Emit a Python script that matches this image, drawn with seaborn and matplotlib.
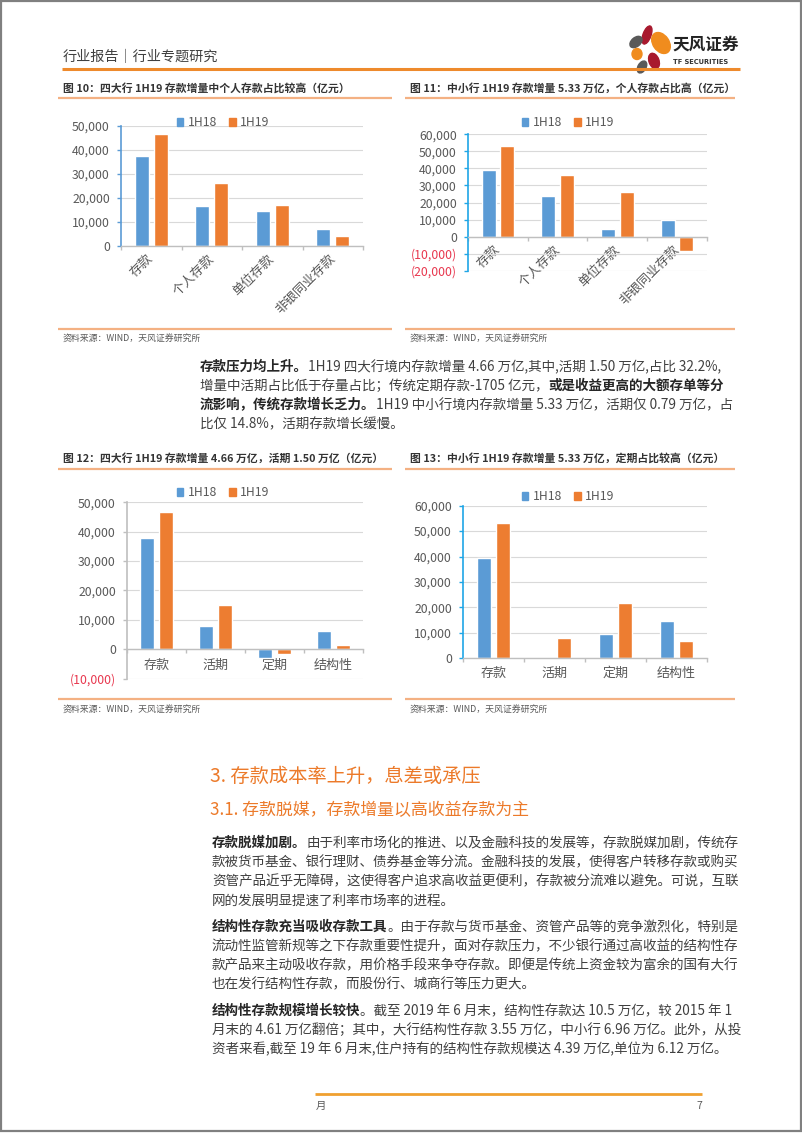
import matplotlib
matplotlib.use('Agg')
import matplotlib.pyplot as plt
import seaborn as sns
import pandas as pd
from matplotlib.patches import Ellipse, Rectangle, Patch
from matplotlib.ticker import FuncFormatter, FixedLocator

# ---------------- data ----------------
periods = ['1H18', '1H19']
cats_a = ['存款', '个人存款', '单位存款', '非银同业存款']
big4_a_1h18 = [37500, 16400, 14700, 6800]
big4_a_1h19 = [46600, 26200, 16800, 3900]
small_a_1h18 = [39100, 23600, 4300, 9800]
small_a_1h19 = [53300, 36100, 26200, -8200]
cats_b = ['存款', '活期', '定期', '结构性']
big4_b_1h18 = [37900, 8000, -2800, 6300]
big4_b_1h19 = [46600, 15000, -1705, 1500]
small_b_1h18 = [39300, -300, 9400, 14700]
small_b_1h19 = [53300, 7900, 21700, 6800]

ticks_a_big = [0, 10000, 20000, 30000, 40000, 50000]
ticks_a_small = [-20000, -10000, 0, 10000, 20000, 30000, 40000, 50000, 60000]
ticks_b_big = [-10000, 0, 10000, 20000, 30000, 40000, 50000]
ticks_b_small = [0, 10000, 20000, 30000, 40000, 50000, 60000]

title10 = '图 10：四大行 1H19 存款增量中个人存款占比较高（亿元）'
title11 = '图 11：中小行 1H19 存款增量 5.33 万亿，个人存款占比高（亿元）'
title12 = '图 12：四大行 1H19 存款增量 4.66 万亿，活期 1.50 万亿（亿元）'
title13 = '图 13：中小行 1H19 存款增量 5.33 万亿，定期占比较高（亿元）'
source = '资料来源：WIND，天风证券研究所'

# ---------------- style ----------------
sns.set_theme(style='white')
plt.rcParams['font.family'] = ['Noto Sans CJK SC', 'DejaVu Sans']
plt.rcParams['axes.unicode_minus'] = False

W, H = 802, 1133
BLUE = '#5B9BD5'
ORANGE = '#ED7D31'
TXT = '#595959'
RED = '#E8384F'
LINE_OR = '#F4B183'
HEAD_OR = '#EE8A2C'

fig = plt.figure(figsize=(W / 100, H / 100), dpi=100)
fig.patch.set_facecolor('white')
bg = fig.add_axes([0, 0, 1, 1])
bg.set_xlim(0, W)
bg.set_ylim(H, 0)
bg.axis('off')
renderer = fig.canvas.get_renderer()

# page border
bg.add_patch(Rectangle((0.8, 0.8), W - 1.6, H - 2.4, fill=False, ec='#808080', lw=1.6))

# header
bg.text(63, 57, '行业报告｜行业专题研究', fontsize=10.2, color='#404040', va='center', ha='left')
bg.plot([62, 740], [69, 69], color=HEAD_OR, lw=2.2, solid_capstyle='butt')
# logo
for (cx, cy, w, h, a, c) in [(647, 35, 8, 19, 20, '#A8192E'), (661, 43, 16, 23, -35, '#F08C1E'),
                             (636, 42, 9, 14, 50, '#595959'), (637, 54, 10, 11, 0, '#F08C1E'),
                             (654, 61, 10, 16, -20, '#A8192E'), (642, 67, 8, 13, 30, '#595959')]:
    bg.add_patch(Ellipse((cx, cy), w, h, angle=a, color=c))
bg.text(672, 45, '天风证券', fontsize=12, fontweight='bold', color='#222222', va='center', ha='left')
bg.text(673, 62, 'TF SECURITIES', fontsize=4.8, fontweight='bold', color='#333333', va='center', ha='left',
        family=['DejaVu Sans'])


def chart_title(x, y, text, lx0, lx1, ly):
    bg.text(x, y, text, fontsize=7.8, fontweight='bold', color='#333333', va='center', ha='left')
    bg.plot([lx0, lx1], [ly, ly], color=LINE_OR, lw=1.6, solid_capstyle='butt')


def chart_source(x, y, lx0, lx1, ly):
    bg.plot([lx0, lx1], [ly, ly], color=LINE_OR, lw=1.6, solid_capstyle='butt')
    bg.text(x, y, source, fontsize=6.4, color='#595959', va='center', ha='left')


def fmt(v, p):
    v = int(round(v))
    return f'{v:,}' if v >= 0 else f'({-v:,})'


def chart(box, cats, v18, v19, ticks, spine_color, rotate, legend_xy, xpad):
    x0, y0, x1, y1 = box
    ax = fig.add_axes([x0 / W, 1 - y1 / H, (x1 - x0) / W, (y1 - y0) / H])
    ax.patch.set_alpha(0)
    df = pd.DataFrame({'cat': cats * 2,
                       'period': [periods[0]] * len(cats) + [periods[1]] * len(cats),
                       'value': v18 + v19})
    sns.barplot(data=df, x='cat', y='value', hue='period', order=cats, hue_order=periods,
                palette=[BLUE, ORANGE], width=0.62, gap=0.24, saturation=1, errorbar=None,
                legend=False, ax=ax)
    ax.set_xlim(-0.5, len(cats) - 0.5)
    ax.set_ylim(ticks[0], ticks[-1])
    ax.set_yticks(ticks)
    ax.yaxis.set_major_formatter(FuncFormatter(fmt))
    ax.set_xlabel('')
    ax.set_ylabel('')
    ax.grid(axis='y', color='#D9D9D9', lw=0.8)
    ax.grid(axis='x', visible=False)
    ax.set_axisbelow(True)
    for s in ['top', 'right']:
        ax.spines[s].set_visible(False)
    ax.spines['left'].set_color(spine_color)
    ax.spines['left'].set_linewidth(1.2)
    ax.spines['bottom'].set_position(('data', 0))
    ax.spines['bottom'].set_color('#BFBFBF')
    ax.spines['bottom'].set_linewidth(1.0)
    ax.tick_params(axis='y', length=3, width=1, color=spine_color, labelcolor=TXT,
                   labelsize=8.8, pad=5, direction='out', left=True)
    ax.xaxis.set_minor_locator(FixedLocator([i - 0.5 for i in range(len(cats) + 1)]))
    ax.tick_params(axis='x', which='minor', length=3, color='#BFBFBF', direction='out', bottom=True)
    ax.tick_params(axis='x', which='major', length=0, labelcolor=TXT, labelsize=9.4, pad=xpad)
    for lab, t in zip(ax.get_yticklabels(), ticks):
        if t < 0:
            lab.set_color(RED)
    if rotate:
        plt.setp(ax.get_xticklabels(), rotation=45, ha='right', va='center', rotation_mode='anchor')
    handles = [Patch(color=BLUE), Patch(color=ORANGE)]
    ax.legend(handles, periods, loc='center', bbox_to_anchor=(legend_xy[0] / W, 1 - legend_xy[1] / H),
              bbox_transform=fig.transFigure, ncol=2, frameon=False, handlelength=0.55,
              handleheight=0.55, handletextpad=0.35, columnspacing=1.0, fontsize=8.8,
              labelcolor=TXT, borderpad=0, borderaxespad=0)
    return ax


# figure 10 / 11
chart_title(63, 88, title10, 58, 392, 98)
chart_title(410, 88, title11, 405, 735, 98)
chart((121, 126, 363, 245.7), cats_a, big4_a_1h18, big4_a_1h19, ticks_a_big, BLUE, True, (223, 123), 8)
chart((468, 134.3, 707, 270.7), cats_a, small_a_1h18, small_a_1h19, ticks_a_small, '#1FA6E6', True, (568, 123), 8)
chart_source(63, 339, 58, 392, 329)
chart_source(410, 339, 405, 735, 329)

# figure 12 / 13
chart_title(63, 458, title12, 58, 392, 469)
chart_title(410, 458, title13, 405, 735, 469)
chart((127, 502.3, 363, 678.7), cats_b, big4_b_1h18, big4_b_1h19, ticks_b_big, '#BFBFBF', False, (223, 493), 7)
chart((463, 505.7, 707, 658.3), cats_b, small_b_1h18, small_b_1h19, ticks_b_small, '#1FA6E6', False, (568, 497), 6)
chart_source(63, 710, 58, 392, 699)
chart_source(410, 710, 405, 735, 699)


# ---------------- body text ----------------
def runs(x, y, parts, size=9.75):
    cx = x
    for s, b in parts:
        t = bg.text(cx, y, s, fontsize=size, fontweight='bold' if b else 'normal',
                    color='#262626' if b else '#404040', va='center', ha='left')
        cx += t.get_window_extent(renderer).width


p0 = [
    [('存款压力均上升。', True), ('1H19 四大行境内存款增量 4.66 万亿,其中,活期 1.50 万亿,占比 32.2%,', False)],
    [('增量中活期占比低于存量占比；传统定期存款-1705 亿元，', False), ('或是收益更高的大额存单等分', True)],
    [('流影响，传统存款增长乏力。', True), ('1H19 中小行境内存款增量 5.33 万亿，活期仅 0.79 万亿，占', False)],
    [('比仅 14.8%，活期存款增长缓慢。', False)],
]
for i, line in enumerate(p0):
    runs(200, 367 + 19.2 * i, line)

bg.text(210, 776, '3. 存款成本率上升，息差或承压', fontsize=13.9, color='#EC7A2A', va='center', ha='left')
bg.text(210, 810, '3.1. 存款脱媒，存款增量以高收益存款为主', fontsize=12.2, color='#EC7A2A', va='center', ha='left')

paras = [
    (843, [
        [('存款脱媒加剧。', True), ('由于利率市场化的推进、以及金融科技的发展等，存款脱媒加剧，传统存', False)],
        [('款被货币基金、银行理财、债券基金等分流。金融科技的发展，使得客户转移存款或购买', False)],
        [('资管产品近乎无障碍，这使得客户追求高收益更便利，存款被分流难以避免。可说，互联', False)],
        [('网的发展明显提速了利率市场率的进程。', False)],
    ]),
    (927, [
        [('结构性存款充当吸收存款工具', True), ('。由于存款与货币基金、资管产品等的竞争激烈化，特别是', False)],
        [('流动性监管新规等之下存款重要性提升，面对存款压力，不少银行通过高收益的结构性存', False)],
        [('款产品来主动吸收存款，用价格手段来争夺存款。即便是传统上资金较为富余的国有大行', False)],
        [('也在发行结构性存款，而股份行、城商行等压力更大。', False)],
    ]),
    (1011, [
        [('结构性存款规模增长较快', True), ('。截至 2019 年 6 月末，结构性存款达 10.5 万亿，较 2015 年 1', False)],
        [('月末的 4.61 万亿翻倍；其中，大行结构性存款 3.55 万亿，中小行 6.96 万亿。此外，从投', False)],
        [('资者来看,截至 19 年 6 月末,住户持有的结构性存款规模达 4.39 万亿,单位为 6.12 万亿。', False)],
    ]),
]
for y0, lines in paras:
    for i, line in enumerate(lines):
        runs(212, y0 + 19.2 * i, line)

# footer
bg.plot([315, 702], [1094, 1094], color='#F0A030', lw=2, solid_capstyle='butt')
bg.text(316, 1106, '月', fontsize=7.5, color='#595959', va='center', ha='left')
bg.text(702, 1106, '7', fontsize=7.5, color='#595959', va='center', ha='right')

fig.savefig('out.png', dpi=100, facecolor='white')
